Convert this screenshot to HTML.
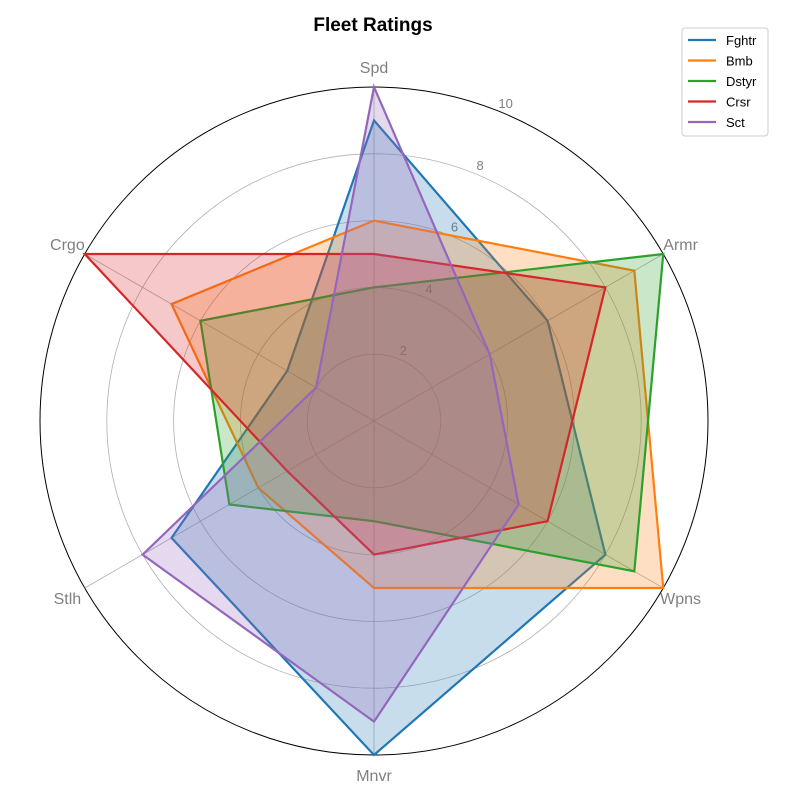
<!DOCTYPE html>
<html><head><meta charset="utf-8"><style>
body{margin:0;background:#fff}
svg{display:block;font-family:"Liberation Sans","DejaVu Sans",sans-serif}
</style></head><body>
<svg id="chart" width="800" height="800">
<text x="373" y="31" text-anchor="middle" font-size="19" font-weight="bold">Fleet Ratings</text>
<g id="grid"></g><g id="series"></g><g id="legend"></g>
</svg>
<script>
const categories=["Spd","Armr","Wpns","Mnvr","Stlh","Crgo"];
const seriesNames=["Fghtr","Bmb","Dstyr","Crsr","Sct"];
const fghtr=[9,6,8,10,7,3];
const bmb=[6,9,10,5,4,7];
const dstyr=[4,10,9,3,5,6];
const crsr=[5,8,6,4,3,10];
const sct=[10,4,5,9,8,2];
const tickLabels=[2,4,6,8,10];
const allSeries=[fghtr,bmb,dstyr,crsr,sct];
const colors=["#1f77b4","#ff7f0e","#2ca02c","#d62728","#9467bd"];
const cx=374,cy=421,R=334,maxV=10;
const NS="http://www.w3.org/2000/svg";
function mk(tag,attrs,parent){const e=document.createElementNS(NS,tag);for(const k in attrs)e.setAttribute(k,attrs[k]);parent.appendChild(e);return e;}
function ang(i){return -Math.PI/2+i*2*Math.PI/categories.length;}
function pt(v,i){const r=v/maxV*R;return [cx+r*Math.cos(ang(i)),cy+r*Math.sin(ang(i))];}
const grid=document.getElementById('grid');
tickLabels.forEach(t=>{
  const c=mk('circle',{cx:cx,cy:cy,r:t/maxV*R,fill:'none',stroke:t===maxV?'#000':'#b0b0b0','stroke-width':t===maxV?1:0.8},grid);
  
  
  const a=-Math.PI/2+22.5*Math.PI/180,r=t/maxV*R+10;
  const tx=mk('text',{x:cx+r*Math.cos(a),y:cy+r*Math.sin(a)+5,'text-anchor':'middle','font-size':13,fill:'#808080'},grid);
  tx.textContent=t;
  
  
});
categories.forEach((c,i)=>{
  const [x,y]=pt(maxV,i);
  const l=mk('line',{x1:cx,y1:cy,x2:x,y2:y,stroke:'#b0b0b0','stroke-width':0.8},grid);
  
  
  const [lx,ly]=pt(maxV+0.6,i);
  const t=mk('text',{x:lx,y:ly+6,'text-anchor':'middle','font-size':16,fill:'#808080'},grid);
  t.textContent=c;
  
  
});
const sg=document.getElementById('series');
allSeries.forEach((s,k)=>{
  const pts=s.map((v,i)=>pt(v,i).join(',')).join(' ');
  const p=mk('polygon',{points:pts,fill:colors[k],'fill-opacity':0.25,stroke:colors[k],'stroke-width':2.2,'stroke-linejoin':'miter'},sg);
  
  
});
const lg=document.getElementById('legend');
const box=mk('rect',{x:682,y:28,width:86,height:108,rx:3,fill:'#fff','fill-opacity':0.8,stroke:'#ccc'},lg);


seriesNames.forEach((n,k)=>{
  const y=40+k*20.5;
  const l=mk('line',{x1:688,y1:y,x2:716,y2:y,stroke:colors[k],'stroke-width':2.2},lg);
  
  
  const t=mk('text',{x:726,y:y+5,'font-size':13,fill:'#000'},lg);
  t.textContent=n;
  
  
});
</script>
</body></html>
